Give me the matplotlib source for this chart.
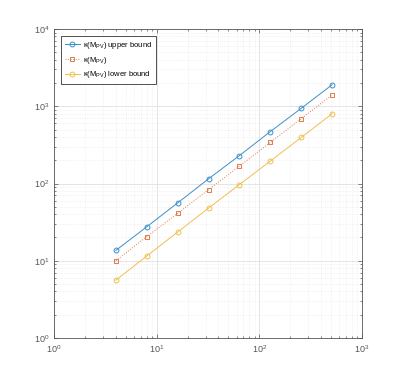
import matplotlib.pyplot as plt
from matplotlib.ticker import LogLocator, NullFormatter

plt.rcParams['font.family'] = ['Liberation Sans', 'DejaVu Sans']
plt.rcParams['mathtext.fontset'] = 'custom'
plt.rcParams['mathtext.rm'] = 'Liberation Sans'
plt.rcParams['mathtext.it'] = 'Liberation Sans'

n = [4, 8, 16, 32, 64, 128, 256, 512]
upper = [13.6, 27.5, 56, 115, 230, 470, 940, 1900]
kappa = [10.0, 20.5, 41, 83, 168, 340, 690, 1400]
lower = [5.6, 11.5, 23.5, 48, 97, 195, 395, 800]
labels = [r'$\kappa(M_{PV})$ upper bound', r'$\kappa(M_{PV})$', r'$\kappa(M_{PV})$ lower bound']

fig = plt.figure(figsize=(4.01, 3.79), dpi=100)
ax = fig.add_axes([54 / 401, 1 - 338 / 379, 308 / 401, 309 / 379])

ax.loglog(n, upper, '-o', color='#3b8fc8', mfc='none', ms=3.5, lw=0.7, mew=0.7, label=labels[0])
ax.loglog(n, kappa, ':s', color='#e07a4a', mfc='none', ms=3.5, lw=0.7, mew=0.7, label=labels[1])
ax.loglog(n, lower, '-o', color='#efc050', mfc='none', ms=3.5, lw=0.7, mew=0.7, label=labels[2])

ax.set_xlim(1, 1000)
ax.set_ylim(1, 10000)
ax.xaxis.set_major_locator(LogLocator(base=10, numticks=10))
ax.yaxis.set_major_locator(LogLocator(base=10, numticks=10))
ax.xaxis.set_minor_locator(LogLocator(base=10, subs=range(2, 10), numticks=20))
ax.yaxis.set_minor_locator(LogLocator(base=10, subs=range(2, 10), numticks=20))
ax.xaxis.set_minor_formatter(NullFormatter())
ax.yaxis.set_minor_formatter(NullFormatter())

ax.grid(True, which='major', color='#e0e0e0', lw=0.6)
ax.grid(True, which='minor', color='#e8e8e8', lw=0.5, ls=':')
ax.set_axisbelow(True)

ax.tick_params(which='both', direction='in', top=True, right=True, colors='#555555',
               labelsize=6.5, labelcolor='#555555')
ax.tick_params(which='major', length=3, width=0.5)
ax.tick_params(which='minor', length=1.5, width=0.5)
for s in ax.spines.values():
    s.set_color('#555555')
    s.set_linewidth(0.6)

leg = ax.legend(loc='upper left', fontsize=5.5, fancybox=False, framealpha=1,
                edgecolor='#333333', handlelength=2.0, handletextpad=0.4,
                borderpad=0.5, labelspacing=0.5, bbox_to_anchor=(0.01, 0.99))
leg.get_frame().set_linewidth(0.6)

fig.savefig('out.png', dpi=100)
